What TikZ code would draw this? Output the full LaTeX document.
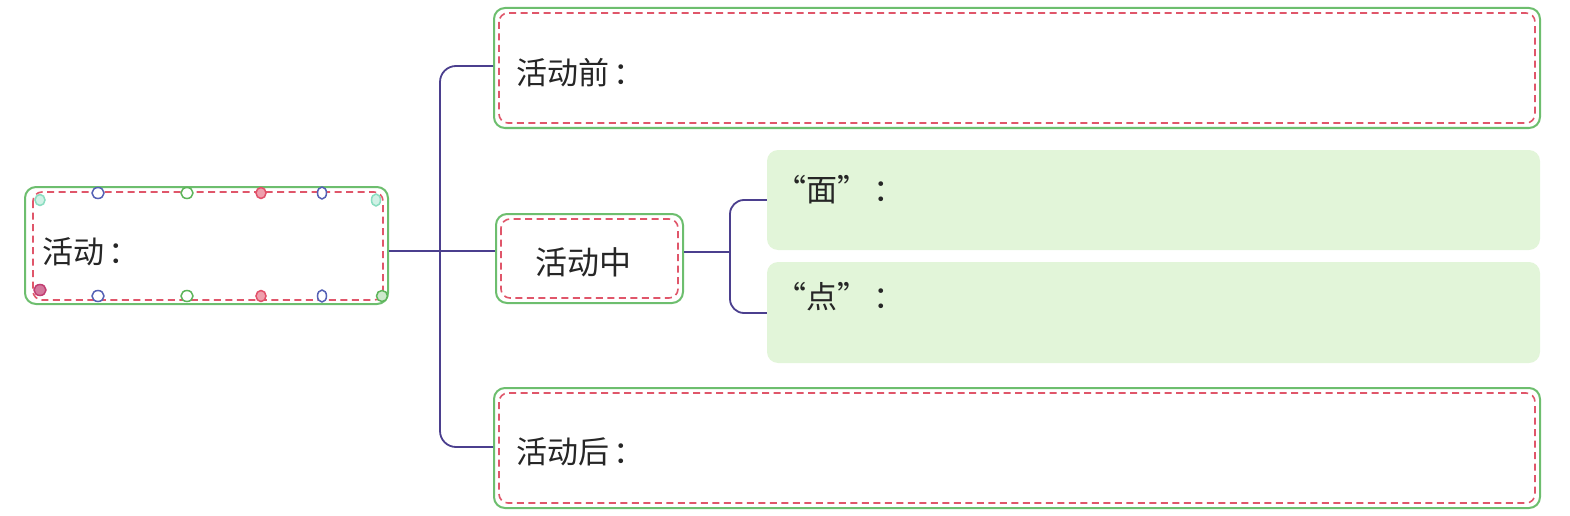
\documentclass[tikz,border=0pt]{standalone}
\usepackage{fontspec}
\setmainfont{Noto Sans CJK SC}
\usetikzlibrary{calc}
\definecolor{boxgreen}{HTML}{6DBE6E}
\definecolor{dashred}{HTML}{E0566A}
\definecolor{trunk}{HTML}{4B3F8E}
\definecolor{paleg}{HTML}{E2F5D9}
\definecolor{dotblue}{HTML}{5561B5}
\definecolor{dotgreen}{HTML}{5DB55A}
\definecolor{dotred}{HTML}{E2506A}
\definecolor{dotmint}{HTML}{8ADDC0}
\definecolor{dotmag}{HTML}{C23E72}
\tikzset{
  frame/.style={draw=boxgreen, line width=2pt, rounded corners=11pt, fill=white, inner sep=0pt},
  dashin/.style={draw=dashred, line width=1.6pt, dash pattern=on 7pt off 4.5pt, rounded corners=9pt},
  pale/.style={fill=paleg, rounded corners=11pt, inner sep=0pt},
  label/.style={font=\fontsize{31}{34}\selectfont, text=black!85, inner sep=0pt, anchor=west},
  conn/.style={draw=trunk, line width=1.8pt},
  dot/.style={line width=1.5pt, fill=white}
}
\begin{document}
\begin{tikzpicture}[x=1pt,y=-1pt]
\useasboundingbox (0,0) rectangle (1570,516);
% root box
\node[frame, minimum width=363pt, minimum height=117pt] (root) at (206.5,245.5) {};
\draw[dashin] ($(root.north west)+(9,6)$) rectangle ($(root.south east)+(-6,-5)$);
\node[label] (roottxt) at (42,252) {活动\hspace{4pt}：};
% dots
\foreach \x/\c in {98/dotblue,187/dotgreen}{
  \draw[dot, draw=\c] (\x,193) ellipse (6pt and 5.5pt);
  \draw[dot, draw=\c] (\x,296) ellipse (6pt and 5.5pt);
}
\draw[dot, draw=dotred, fill=dotred!55] (261,193) ellipse (5pt and 5.5pt);
\draw[dot, draw=dotred, fill=dotred!55] (261,296) ellipse (5pt and 5.5pt);
\draw[dot, draw=dotblue] (322,193) ellipse (4.5pt and 6pt);
\draw[dot, draw=dotblue] (322,296) ellipse (4.5pt and 6pt);
\draw[dot, draw=dotmint, fill=dotmint!40] (40,200) ellipse (5pt and 5.5pt);
\draw[dot, draw=dotmint, fill=dotmint!40] (376,200) ellipse (4.5pt and 6pt);
\draw[dot, draw=dotmag, fill=dotmag!70] (40,290) ellipse (6pt and 5.5pt);
\draw[dot, draw=dotgreen, fill=dotgreen!30] (382,296) ellipse (5.5pt and 5.5pt);

% top box
\node[frame, minimum width=1046pt, minimum height=120pt] (top) at (1017,68) {};
\draw[dashin] ($(top.north west)+(6,6)$) rectangle ($(top.south east)+(-6,-6)$);
\node[label] (toptxt) at (516,73) {活动前\hspace{4pt}：};

% bottom box
\node[frame, minimum width=1046pt, minimum height=120pt] (bot) at (1017,448) {};
\draw[dashin] ($(bot.north west)+(6,6)$) rectangle ($(bot.south east)+(-6,-6)$);
\node[label] (bottxt) at (516,452) {活动后\hspace{4pt}：};

% middle box
\node[frame, minimum width=187pt, minimum height=89pt] (mid) at (589.5,258.5) {};
\draw[dashin] ($(mid.north west)+(6,6)$) rectangle ($(mid.south east)+(-6,-6)$);
\node[font=\fontsize{32}{34}\selectfont, text=black!85, inner sep=0pt] (midtxt) at (583,262) {活动中};

% green panels
\node[pale, minimum width=773pt, minimum height=100pt] (face) at (1153.5,200) {};
\node[pale, minimum width=773pt, minimum height=101pt] (point) at (1153.5,312.5) {};
\node[label] (facetxt) at (775,190) {“面”\,：};
\node[label] (pointtxt) at (775,297) {“点”\,：};

% connectors
\coordinate (tr) at (440,251);
\coordinate (br) at (730,252);
\draw[conn] (root.east |- tr) -- (tr) -- (mid.west |- tr);
\draw[conn, rounded corners=16pt] (top.west |- 0,66) -| (tr) |- (bot.west |- 0,447);
\draw[conn] (mid.east |- br) -- (br);
\draw[conn, rounded corners=14pt] (face.west |- 0,200) -| (br) |- (point.west |- 0,313);
\end{tikzpicture}
\end{document}
